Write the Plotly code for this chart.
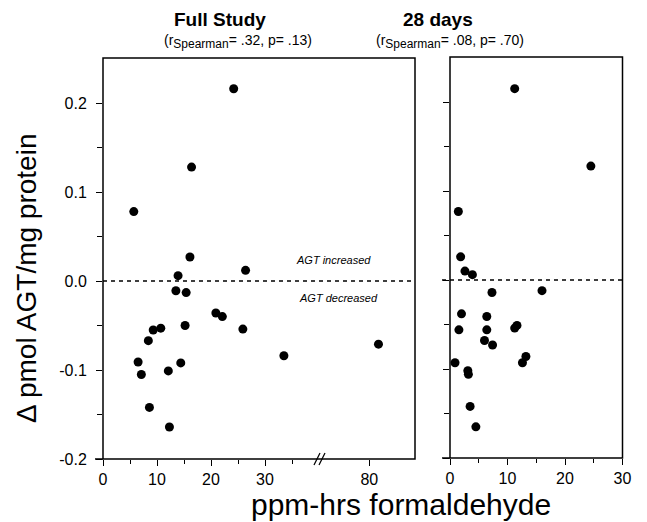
import plotly.graph_objects as go

# ---------------- data ----------------
full_x = [5.7, 16.4, 24.2, 16.1, 13.9, 26.4, 13.5, 15.4, 20.9, 22.1, 25.9, 15.2,
          10.7, 9.3, 8.4, 6.5, 7.1, 14.4, 12.1, 8.6, 12.3, 33.5, 81.7]
full_y = [0.078, 0.128, 0.216, 0.027, 0.006, 0.012, -0.011, -0.013, -0.036, -0.040,
          -0.054, -0.050, -0.053, -0.055, -0.067, -0.091, -0.105, -0.092, -0.101,
          -0.142, -0.164, -0.084, -0.071]

d28_x = [1.45, 11.25, 24.5, 1.85, 2.6, 3.9, 7.3, 16.0, 2.0, 6.4, 1.55, 6.4, 11.25,
         11.65, 6.0, 7.4, 0.87, 3.1, 3.2, 13.2, 12.6, 3.5, 4.5]
d28_y = [0.077, 0.215, 0.128, 0.026, 0.010, 0.006, -0.014, -0.012, -0.038, -0.041,
         -0.056, -0.056, -0.054, -0.051, -0.068, -0.073, -0.093, -0.102, -0.106,
         -0.086, -0.093, -0.142, -0.165]

y_ticks = [-0.2, -0.1, 0.0, 0.1, 0.2]
y_ticktext = ["-0.2", "-0.1", "0.0", "0.1", "0.2"]
y_minor = [-0.15, -0.05, 0.05, 0.15]
xl_ticks = [0, 10, 20, 30]
xl_minor = [5, 15, 25, 35]
xb_ticks = [80]
xr_ticks = [0, 10, 20, 30]
xr_minor = [5, 15, 25]

titles = ["Full Study", "28 days"]
sub_tag = "<sub><span style='font-size:12px'>Spearman</span></sub>"
subtitles = ["(r" + sub_tag + "= .32, p= .13)", "(r" + sub_tag + "= .08, p= .70)"]

# ---------------- layout helpers (pixel -> paper) ----------------
W, H = 647, 522
def px(x):
    return x / W
def py(y):
    return 1 - y / H

BREAK = 40.0
FONT = "Liberation Sans, Arial, sans-serif"

lo_x = [x for x in full_x if x < BREAK]
lo_y = [y for x, y in zip(full_x, full_y) if x < BREAK]
hi_x = [x for x in full_x if x >= BREAK]
hi_y = [y for x, y in zip(full_x, full_y) if x >= BREAK]

mk = dict(color="black", size=9)
fig = go.Figure()
fig.add_trace(go.Scatter(x=lo_x, y=lo_y, mode="markers", marker=mk, xaxis="x", yaxis="y", showlegend=False))
fig.add_trace(go.Scatter(x=hi_x, y=hi_y, mode="markers", marker=mk, xaxis="x2", yaxis="y", showlegend=False))
fig.add_trace(go.Scatter(x=d28_x, y=d28_y, mode="markers", marker=mk, xaxis="x3", yaxis="y2", showlegend=False))

# panel pixel geometry
L_left, L_break, L_right = 103, 320, 415
L_top, L_bot = 58, 459
R_left, R_right = 450, 622.5
R_top, R_bot = 57, 458

ymin = -0.2
yspan_px = 890.0  # px per 1.0 unit
ymax_l = ymin + (L_bot - L_top) / yspan_px
ymax_r = ymin + (R_bot - R_top) / yspan_px
xscale = 5.4  # px per unit (left)
xl_max = (L_break - L_left) / xscale
xb_min = 80 - (369.3 - L_break) / xscale
xb_max = 80 + (L_right - 369.3) / xscale

tickfont = dict(family=FONT, size=16, color="black")
common = dict(showgrid=False, zeroline=False, showline=False, ticks="outside",
              tickcolor="black", tickwidth=1.2, ticklen=6, automargin=False,
              tickfont=tickfont, fixedrange=True)

fig.update_layout(
    width=W, height=H,
    margin=dict(l=0, r=0, t=0, b=0),
    paper_bgcolor="white", plot_bgcolor="rgba(0,0,0,0)",
    template="none",
    xaxis=dict(domain=[px(L_left), px(L_break)], range=[0, xl_max], anchor="y",
               tickmode="array", tickvals=xl_ticks, ticktext=[str(v) for v in xl_ticks],
               minor=dict(tickvals=xl_minor, ticks="outside", ticklen=4, tickcolor="black", tickwidth=1.2),
               **common),
    xaxis2=dict(domain=[px(L_break), px(L_right)], range=[xb_min, xb_max], anchor="y",
                tickmode="array", tickvals=xb_ticks, ticktext=[str(v) for v in xb_ticks],
                **common),
    xaxis3=dict(domain=[px(R_left), px(R_right)], range=[0, 30], anchor="y2",
                tickmode="array", tickvals=xr_ticks, ticktext=[str(v) for v in xr_ticks],
                minor=dict(tickvals=xr_minor, ticks="outside", ticklen=4, tickcolor="black", tickwidth=1.2),
                **common),
    yaxis=dict(domain=[py(L_bot), py(L_top)], range=[ymin, ymax_l], anchor="x",
               tickmode="array", tickvals=y_ticks, ticktext=y_ticktext, ticklabelstandoff=6,
               minor=dict(tickvals=y_minor, ticks="outside", ticklen=5, tickcolor="black", tickwidth=1.2),
               **common),
    yaxis2=dict(domain=[py(R_bot), py(R_top)], range=[ymin, ymax_r], anchor="x3",
                tickmode="array", tickvals=y_ticks, showticklabels=False,
                minor=dict(tickvals=y_minor, ticks="outside", ticklen=5, tickcolor="black", tickwidth=1.2),
                **common),
)

lw = 1.5
shapes = [
    # frames
    dict(type="rect", xref="paper", yref="paper", x0=px(L_left), x1=px(L_right), y0=py(L_bot), y1=py(L_top),
         line=dict(color="black", width=lw)),
    dict(type="rect", xref="paper", yref="paper", x0=px(R_left), x1=px(R_right), y0=py(R_bot), y1=py(R_top),
         line=dict(color="black", width=lw)),
    # x-axis line extensions left of y axis
    dict(type="line", xref="paper", yref="paper", x0=px(95), x1=px(L_left), y0=py(L_bot), y1=py(L_bot),
         line=dict(color="black", width=lw)),
    dict(type="line", xref="paper", yref="paper", x0=px(442), x1=px(R_left), y0=py(R_bot), y1=py(R_bot),
         line=dict(color="black", width=lw)),
    # axis break marks
    dict(type="line", xref="paper", yref="paper", x0=px(314), x1=px(320), y0=py(465), y1=py(453),
         line=dict(color="black", width=1.2)),
    dict(type="line", xref="paper", yref="paper", x0=px(319), x1=px(325), y0=py(465), y1=py(453),
         line=dict(color="black", width=1.2)),
    # zero lines (dashed)
    dict(type="line", xref="paper", yref="y", x0=px(L_left), x1=px(L_right), y0=0, y1=0,
         line=dict(color="black", width=1.3, dash="4px,4px")),
    dict(type="line", xref="paper", yref="y2", x0=px(442), x1=px(R_right), y0=0, y1=0,
         line=dict(color="black", width=1.3, dash="4px,4px")),
]
fig.update_layout(shapes=shapes)

ann = []
def add_text(text, x, y, size, bold=False, italic=False, angle=0, xanchor="center", yanchor="middle"):
    t = text
    if bold:
        t = "<b>" + t + "</b>"
    if italic:
        t = "<i>" + t + "</i>"
    ann.append(dict(text=t, x=px(x), y=py(y), xref="paper", yref="paper", showarrow=False,
                    xanchor=xanchor, yanchor=yanchor, textangle=angle,
                    font=dict(family=FONT, size=size, color="black")))

add_text(titles[0], 220, 20, 19, bold=True)
add_text(subtitles[0], 237.5, 41, 14)
add_text(titles[1], 437.5, 20, 19, bold=True)
add_text(subtitles[1], 450, 41, 14)
add_text("AGT increased", 333, 260, 11, italic=True)
add_text("AGT decreased", 338, 298, 11, italic=True)
add_text("\u0394 pmol AGT/mg protein", 26, 278, 28, angle=-90)
add_text("ppm-hrs formaldehyde", 401, 504, 30)
fig.update_layout(annotations=ann)

fig.write_html("out.html", config={"displayModeBar": False},
               post_script="document.body.style.margin='0';document.body.style.overflow='hidden';")
